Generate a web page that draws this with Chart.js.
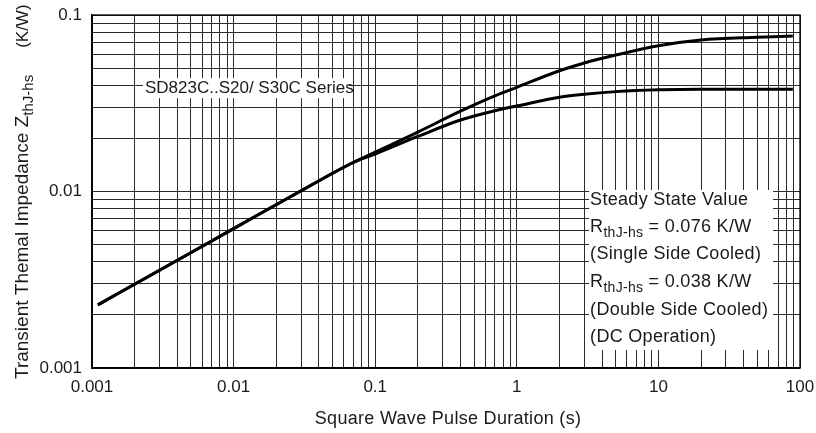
<!DOCTYPE html>
<html>
<head>
<meta charset="utf-8">
<script src="https://cdn.jsdelivr.net/npm/chart.js@4/dist/chart.umd.min.js"></script>
<style>
html,body{margin:0;padding:0;background:#fff;}
#wrap{width:816px;height:433px;position:relative;}
</style>
</head>
<body>
<div id="wrap"><canvas id="c" width="816" height="433"></canvas></div>
<script>
// ---- data ----
const pulseDuration = [0.0011, 0.003, 0.01, 0.03, 0.07, 0.1, 0.2, 0.4, 0.7, 1, 2, 3, 5, 10, 20, 50, 89];
const zSingleSide  = [0.00228, 0.00358, 0.00616, 0.0101, 0.0146, 0.0167, 0.0217, 0.0285, 0.0348, 0.0389, 0.0483, 0.0535, 0.0593, 0.067, 0.0722, 0.0748, 0.076];
const zDoubleSide  = [0.00228, 0.00358, 0.00616, 0.0101, 0.0146, 0.0163, 0.0205, 0.0254, 0.0287, 0.0305, 0.0342, 0.0356, 0.0368, 0.0377, 0.038, 0.038, 0.038];
const xDecades = [0.001, 0.01, 0.1, 1, 10, 100];
const yDecades = [0.001, 0.01, 0.1];
const xTickLabels = ['0.001', '0.01', '0.1', '1', '10', '100'];
const yTickLabels = ['0.001', '0.01', '0.1'];
const xTitle = 'Square Wave Pulse Duration (s)';
const yTitleMain = 'Transient Themal Impedance Z';
const yTitleSub = 'thJ-hs';
const yTitleEnd = '(K/W)';
const seriesNote = 'SD823C..S20/ S30C Series';
const steadyLines = [
  ['Steady State Value', '', ''],
  ['R', 'thJ-hs', ' = 0.076 K/W'],
  ['(Single Side Cooled)', '', ''],
  ['R', 'thJ-hs', ' = 0.038 K/W'],
  ['(Double Side Cooled)', '', ''],
  ['(DC Operation)', '', '']
];

function logTicks(decades) {
  const out = [];
  for (let i = 0; i < decades.length; i++) {
    const d = decades[i];
    if (i === decades.length - 1) { out.push(d); break; }
    for (let m = 1; m <= 9; m++) out.push(+(d * m).toPrecision(6));
  }
  return out;
}
const xTicks = logTicks(xDecades);
const yTicks = logTicks(yDecades);

function labelFor(v, decades, labels) {
  for (let i = 0; i < decades.length; i++) {
    if (Math.abs(v / decades[i] - 1) < 1e-6) return labels[i];
  }
  return '';
}

const FONT = "'Liberation Sans', Arial, sans-serif";
const TXT = '#1a1a1a';

function drawSubText(ctx, x, y, parts, size, subSize, subDrop) {
  ctx.font = size + 'px ' + FONT;
  ctx.fillText(parts[0], x, y);
  let w = ctx.measureText(parts[0]).width;
  if (parts[1]) {
    ctx.font = subSize + 'px ' + FONT;
    ctx.fillText(parts[1], x + w, y + subDrop);
    w += ctx.measureText(parts[1]).width;
  }
  if (parts[2]) {
    ctx.font = size + 'px ' + FONT;
    ctx.fillText(parts[2], x + w, y);
    w += ctx.measureText(parts[2]).width;
  }
  return w;
}

const annotations = {
  id: 'annotations',
  afterDatasetsDraw(chart) {
    const ctx = chart.ctx;
    const xs = chart.scales.x, ys = chart.scales.y;
    const ca = chart.chartArea;
    ctx.save();
    ctx.textAlign = 'left';
    // series note box
    const b1x = xs.getPixelForValue(0.00229);
    const b1y = ys.getPixelForValue(0.0385);
    ctx.fillStyle = '#fff';
    ctx.fillRect(b1x, b1y - 10, 206, 20);
    ctx.fillStyle = TXT;
    ctx.textBaseline = 'middle';
    ctx.font = '17px ' + FONT;
    ctx.fillText(seriesNote, b1x + 2, b1y);

    // steady state box
    const b2x = xs.getPixelForValue(3.24);
    const b2y = ys.getPixelForValue(0.0102);
    ctx.fillStyle = '#fff';
    ctx.fillRect(b2x, b2y, 184, 160);
    ctx.fillStyle = TXT;
    ctx.letterSpacing = '0.3px';
    const centers = [10, 37, 64, 92, 120, 147];
    steadyLines.forEach((p, i) => {
      drawSubText(ctx, b2x + 1, b2y + centers[i], p, 18, 14, 6);
    });
    ctx.letterSpacing = '0px';

    // x title
    ctx.font = '18px ' + FONT;
    ctx.textAlign = 'center';
    ctx.letterSpacing = '0.3px';
    ctx.fillText(xTitle, (ca.left + ca.right) / 2 + 2, 419);
    ctx.letterSpacing = '0px';

    // y title (rotated, with subscript)
    ctx.save();
    ctx.translate(28, 379);
    ctx.rotate(-Math.PI / 2);
    ctx.textAlign = 'left';
    ctx.textBaseline = 'alphabetic';
    let w = drawSubText(ctx, 0, 0, [yTitleMain, yTitleSub, ''], 19, 15, 5);
    ctx.font = '17px ' + FONT;
    ctx.fillText(yTitleEnd, w + 27, 0);
    ctx.restore();
    ctx.restore();
  }
};

new Chart(document.getElementById('c'), {
  type: 'line',
  data: {
    datasets: [
      {
        label: 'Single Side Cooled',
        data: pulseDuration.map((x, i) => ({ x, y: zSingleSide[i] })),
        borderColor: '#000', borderWidth: 3, pointRadius: 0,
        cubicInterpolationMode: 'monotone', fill: false
      },
      {
        label: 'Double Side Cooled',
        data: pulseDuration.map((x, i) => ({ x, y: zDoubleSide[i] })),
        borderColor: '#000', borderWidth: 3, pointRadius: 0,
        cubicInterpolationMode: 'monotone', fill: false
      }
    ]
  },
  options: {
    responsive: false,
    animation: false,
    devicePixelRatio: 1,
    layout: { padding: { top: 15, right: 16, left: 0, bottom: 0 } },
    plugins: { legend: { display: false }, tooltip: { enabled: false }, title: { display: false } },
    scales: {
      x: {
        type: 'logarithmic',
        min: 0.001, max: 100,
        afterBuildTicks: s => { s.ticks = xTicks.map(v => ({ value: v })); },
        afterFit: s => { s.height = 65; s.paddingLeft = 0; s.paddingRight = 0; },
        ticks: {
          autoSkip: false, maxRotation: 0, padding: 9,
          color: TXT, font: { family: FONT, size: 17 },
          callback: v => labelFor(v, xDecades, xTickLabels)
        },
        grid: { color: '#2a2a2a', lineWidth: 1, drawTicks: false },
        border: { display: true, color: '#000', width: 1.3 }
      },
      y: {
        type: 'logarithmic',
        min: 0.001, max: 0.1,
        afterBuildTicks: s => { s.ticks = yTicks.map(v => ({ value: v })); },
        afterFit: s => { s.width = 92; s.paddingTop = 0; s.paddingBottom = 0; },
        ticks: {
          autoSkip: false, padding: 10,
          color: TXT, font: { family: FONT, size: 17 },
          callback: v => labelFor(v, yDecades, yTickLabels)
        },
        grid: { color: '#2a2a2a', lineWidth: 1, drawTicks: false },
        border: { display: true, color: '#000', width: 1.3 }
      }
    }
  },
  plugins: [annotations, {
    id: 'frame',
    afterDraw(chart) {
      const { ctx, chartArea: a } = chart;
      ctx.save();
      ctx.strokeStyle = '#000';
      ctx.lineWidth = 1.3;
      ctx.strokeRect(a.left, a.top, a.right - a.left, a.bottom - a.top);
      ctx.restore();
    }
  }]
});
</script>
</body>
</html>
